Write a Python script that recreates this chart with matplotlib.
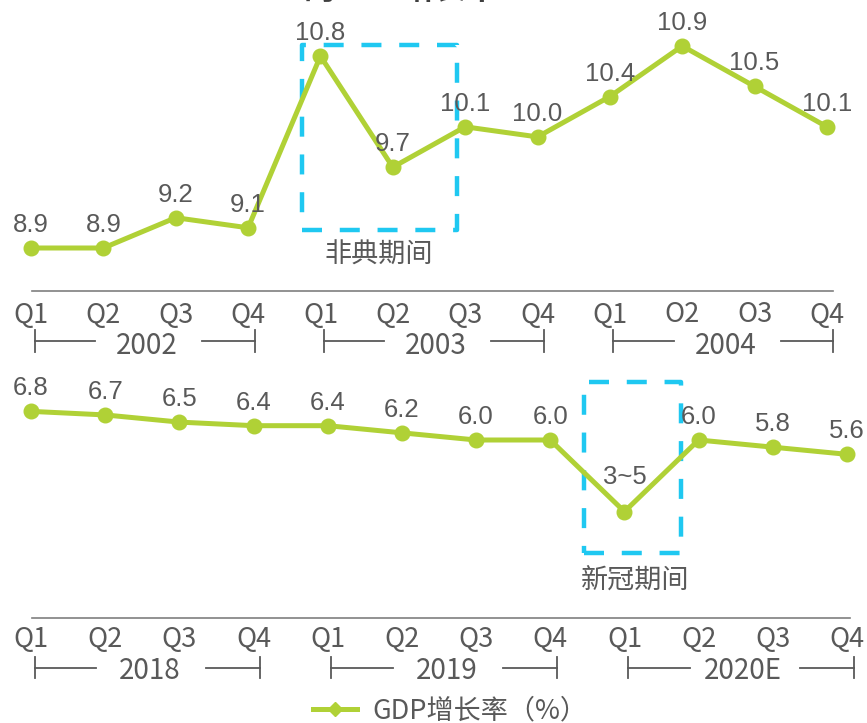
import matplotlib
matplotlib.use("Agg")
import matplotlib.pyplot as plt
from matplotlib.transforms import blended_transform_factory
from matplotlib.patches import Rectangle
from matplotlib.lines import Line2D

# ---------------- data ----------------
quarters_top = ["Q1", "Q2", "Q3", "Q4", "Q1", "Q2", "Q3", "Q4", "Q1", "O2", "O3", "Q4"]
years_top = ["2002", "2003", "2004"]
gdp_top = [8.9, 8.9, 9.2, 9.1, 10.8, 9.7, 10.1, 10.0, 10.4, 10.9, 10.5, 10.1]

quarters_bot = ["Q1", "Q2", "Q3", "Q4", "Q1", "Q2", "Q3", "Q4", "Q1", "Q2", "Q3", "Q4"]
years_bot = ["2018", "2019", "2020E"]
gdp_bot = [6.8, 6.7, 6.5, 6.4, 6.4, 6.2, 6.0, 6.0, 4.0, 6.0, 5.8, 5.6]
labels_bot = ["6.8", "6.7", "6.5", "6.4", "6.4", "6.2", "6.0", "6.0", "3~5", "6.0", "5.8", "5.6"]

title_text = "的GDP增长率"
legend_text = "GDP增长率（%）"
note_top = "非典期间"
note_bot = "新冠期间"

# ---------------- style ----------------
W, H = 867, 723
GREEN = "#B0D136"
CYAN = "#1FC8F1"
GRAY = "#595959"
NUM_FONT = ["Liberation Sans", "DejaVu Sans"]
CJK_FONT = ["Noto Sans CJK SC", "DejaVu Sans"]

plt.rcParams["font.family"] = CJK_FONT

fig = plt.figure(figsize=(W / 100, H / 100), dpi=100)
fig.patch.set_facecolor("white")


def fy(p):
    return 1 - p / H


ax1 = fig.add_axes([0, fy(300), 1, 300 / H])
ax2 = fig.add_axes([0, 0, 1, 1 - 300 / H])
for ax in (ax1, ax2):
    ax.set_axis_off()

# pixel -> data mapping chosen so that layout matches reference
ax1.set_xlim(-31 / 72.36, (W - 31) / 72.36)
ax1.set_ylim(8.9 - 52 / 101, 8.9 + 248 / 101)
ax2.set_xlim(-31 / 74.18, (W - 31) / 74.18)
ax2.set_ylim(6.0 - 283 / 35.8, 6.0 + 140 / 35.8)

x = list(range(len(gdp_top)))


def draw_series(ax, values, labels, special=None):
    ax.plot(x, values, color=GREEN, lw=3.6, marker="o", ms=10.5,
            markerfacecolor=GREEN, markeredgecolor=GREEN, solid_joinstyle="round",
            zorder=3)
    for i, (v, t) in enumerate(zip(values, labels)):
        off = 11.5
        if special is not None and i == special:
            off = 20
        ax.annotate(t, (i, v), xytext=(0, off), textcoords="offset points",
                    ha="center", va="baseline", fontsize=18.5, color=GRAY,
                    family=NUM_FONT, zorder=4, annotation_clip=False)


draw_series(ax1, gdp_top, ["%.1f" % v for v in gdp_top])
draw_series(ax2, gdp_bot, labels_bot, special=8)

# dashed highlight boxes
r1 = Rectangle((3.745, 9.078), 5.887 - 3.745, 10.91 - 9.078, fill=False,
               edgecolor=CYAN, lw=3.2, linestyle=(0, (4.5, 4.0)), zorder=2,
               joinstyle="round")
ax1.add_patch(r1)
ax1.text(4.81, 8.9 + (248 - 255) / 101, note_top, ha="center", va="center",
         fontsize=19.5, color=GRAY, family=CJK_FONT)

r2 = Rectangle((7.455, 2.844), 8.763 - 7.455, 7.62 - 2.844, fill=False,
               edgecolor=CYAN, lw=3.2, linestyle=(0, (4.5, 4.0)), zorder=2,
               joinstyle="round")
ax2.add_patch(r2)
ax2.text(8.14, 6.0 - (581 - 440) / 35.8, note_bot, ha="center", va="center",
         fontsize=19.5, color=GRAY, family=CJK_FONT)


def draw_axis(ax, quarters, years, line_y, q_y, yr_y, tick_top, tick_bot, line_x1):
    tr = blended_transform_factory(ax.transData, fig.transFigure)
    ax.plot([0.014, line_x1], [fy(line_y), fy(line_y)], color="#7F7F7F", lw=1.2,
            transform=tr, clip_on=False)
    for i, q in enumerate(quarters):
        ax.text(i, fy(q_y), q, transform=tr, ha="center", va="center",
                fontsize=19.5, color=GRAY, family=CJK_FONT, clip_on=False)
    for k, yr in enumerate(years):
        left = 4 * k + 0.05
        right = 4 * k + 3 + 0.09
        mid = (left + right) / 2 + 0.03
        ax.plot([left, left], [fy(tick_top), fy(tick_bot)], color=GRAY, lw=1.3,
                transform=tr, clip_on=False)
        ax.plot([right, right], [fy(tick_top), fy(tick_bot)], color=GRAY, lw=1.3,
                transform=tr, clip_on=False)
        hy = fy((tick_top + tick_bot) / 2)
        ax.plot([left, mid - 0.72], [hy, hy], color=GRAY, lw=1.3,
                transform=tr, clip_on=False)
        ax.plot([mid + 0.76, right], [hy, hy], color=GRAY, lw=1.3,
                transform=tr, clip_on=False)
        ax.text(mid, fy(yr_y), yr, transform=tr, ha="center", va="center",
                fontsize=20, color=GRAY, family=CJK_FONT, clip_on=False)


draw_axis(ax1, quarters_top, years_top, 291, 315, 346, 330, 352, (833 - 31) / 72.36)
draw_axis(ax2, quarters_bot, years_bot, 618, 640, 671, 657, 678, (850 - 31) / 74.18)

# legend
handle = Line2D([], [], color=GREEN, lw=3.6, marker="D", ms=7,
                markerfacecolor=GREEN, markeredgecolor=GREEN)
fig.legend([handle], [legend_text], loc="center",
           bbox_to_anchor=(450 / W, fy(711)), frameon=False,
           prop={"family": CJK_FONT, "size": 19.5}, handlelength=1.65,
           handletextpad=0.55, borderpad=0, borderaxespad=0, labelcolor=GRAY)

# partially cut-off title at very top (cropped in the reference too)
fig.text(401 / W, fy(-1.5), title_text, ha="center", va="baseline",
         fontsize=23, fontweight="bold", color="#3F3F3F", family=CJK_FONT)

fig.savefig("out.png", dpi=100, facecolor="white")
